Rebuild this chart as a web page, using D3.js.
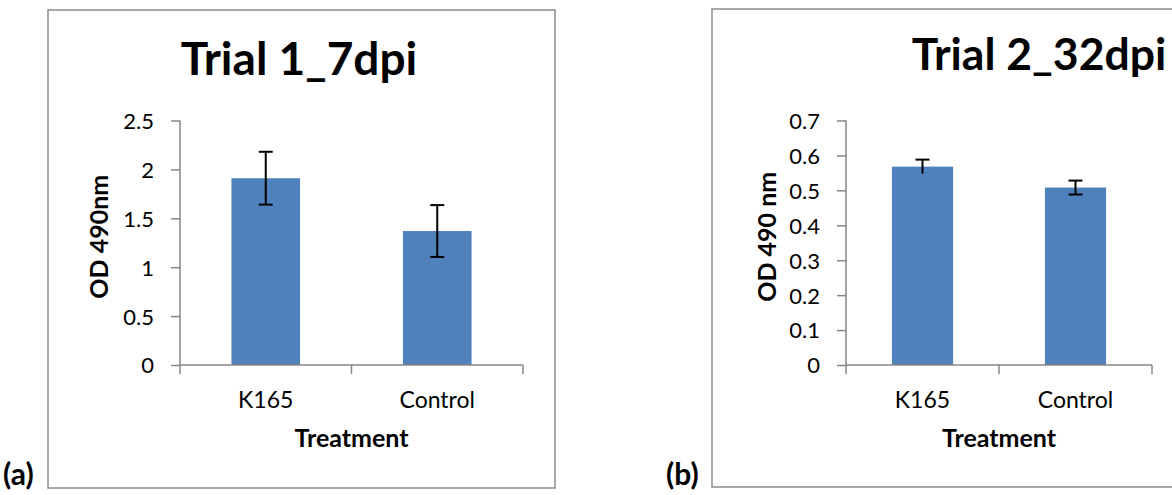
<!DOCTYPE html>
<html>
<head>
<meta charset="utf-8">
<script src="https://cdn.jsdelivr.net/npm/d3@7"></script>
<style>
  html, body { margin: 0; padding: 0; background: #ffffff; }
  svg { display: block; font-family: Lato, "Open Sans", "DejaVu Sans", sans-serif; }
</style>
</head>
<body>
<svg id="chart" width="1172" height="495"></svg>
<script>
// ---- data ----
const categories = ["K165", "Control"];

const titleA = "Trial 1_7dpi";
const valuesA = [1.91, 1.37];
const errorsA = [0.27, 0.265];
const yTicksA = [0, 0.5, 1, 1.5, 2, 2.5];
const yLabelA = "OD 490nm";

const titleB = "Trial 2_32dpi";
const valuesB = [0.568, 0.508];
const errorsB = [0.02, 0.02];
const yTicksB = [0, 0.1, 0.2, 0.3, 0.4, 0.5, 0.6, 0.7];
const yLabelB = "OD 490 nm";

const xLabel = "Treatment";

const svg = d3.select("#chart");
const AXIS = "#868686";
const BAR = "#4f81bd";

function drawPanel(cfg) {
  const g = svg.append("g");
  // outer frame
  g.append("rect")
    .attr("x", cfg.frame[0]).attr("y", cfg.frame[1])
    .attr("width", cfg.frame[2]).attr("height", cfg.frame[3])
    .attr("fill", "none").attr("stroke", "#8c8c8c").attr("stroke-width", 1.5);

  const x = d3.scaleBand().domain(cfg.cats)
    .range([cfg.x0, cfg.x1]).paddingInner(0.6).paddingOuter(0.3);
  const y = d3.scaleLinear().domain(cfg.yDomain).range([cfg.yBottom, cfg.yTop]);

  // bars
  g.selectAll("rect.bar").data(cfg.values).join("rect")
    .attr("class", "bar")
    .attr("x", (d, i) => x(cfg.cats[i]))
    .attr("width", x.bandwidth())
    .attr("y", d => y(d))
    .attr("height", d => y(0) - y(d))
    .attr("fill", BAR);

  // y axis
  const yAxis = d3.axisLeft(y).tickValues(cfg.yTicks)
    .tickFormat(d3.format("~g")).tickSize(9).tickPadding(17);
  const ya = g.append("g").attr("transform", `translate(${cfg.x0},0)`).call(yAxis);
  ya.select(".domain").attr("stroke", AXIS).attr("stroke-width", 1.5)
    .attr("d", `M0,${cfg.yTop}V${cfg.yBottom}`);
  ya.selectAll(".tick line").attr("stroke", AXIS).attr("stroke-width", 1.5);
  ya.selectAll(".tick text").attr("fill", "#000").attr("font-size", 22)
    .attr("font-family", "Lato, 'Open Sans', sans-serif").attr("dy", "0.36em");

  // x axis line with boundary ticks
  g.append("line").attr("x1", cfg.x0).attr("x2", cfg.x1)
    .attr("y1", y(0)).attr("y2", y(0))
    .attr("stroke", AXIS).attr("stroke-width", 1.5);
  const bounds = [cfg.x0].concat(cfg.cats.map(c => x(c) + x.bandwidth() / 2 + x.step() / 2));
  g.selectAll("line.xt").data(bounds).join("line")
    .attr("class", "xt")
    .attr("x1", d => d).attr("x2", d => d)
    .attr("y1", y(0)).attr("y2", y(0) + 9)
    .attr("stroke", AXIS).attr("stroke-width", 1.5);

  // category labels
  g.selectAll("text.cat").data(cfg.cats).join("text")
    .attr("class", "cat")
    .attr("x", d => x(d) + x.bandwidth() / 2)
    .attr("y", y(0) + 43)
    .attr("text-anchor", "middle")
    .attr("font-size", 23)
    .attr("fill", "#000")
    .text(d => d);

  // error bars
  const cap = 7;
  cfg.values.forEach((v, i) => {
    const cx = x(cfg.cats[i]) + x.bandwidth() / 2;
    const e = cfg.errors[i];
    g.append("line").attr("x1", cx).attr("x2", cx)
      .attr("y1", y(v + e)).attr("y2", y(v - e))
      .attr("stroke", "#000").attr("stroke-width", 2);
    g.append("line").attr("x1", cx - cap).attr("x2", cx + cap)
      .attr("y1", y(v + e)).attr("y2", y(v + e))
      .attr("stroke", "#000").attr("stroke-width", 2);
    if (cfg.lowerCaps[i]) {
      g.append("line").attr("x1", cx - cap).attr("x2", cx + cap)
        .attr("y1", y(v - e)).attr("y2", y(v - e))
        .attr("stroke", "#000").attr("stroke-width", 2);
    }
  });

  // title
  g.append("text").attr("x", cfg.titleX).attr("y", cfg.titleY)
    .attr("text-anchor", "middle").attr("font-size", cfg.titleSize).attr("font-weight", 700)
    .attr("fill", "#000").text(cfg.title);

  // x axis title
  g.append("text").attr("x", (cfg.x0 + cfg.x1) / 2).attr("y", y(0) + 82)
    .attr("text-anchor", "middle").attr("font-size", 25).attr("font-weight", 700)
    .attr("fill", "#000").text(xLabel);

  // y axis title
  g.append("text")
    .attr("transform", `translate(${cfg.yLabelX},${(cfg.yTop + cfg.yBottom) / 2 - 6}) rotate(-90)`)
    .attr("text-anchor", "middle").attr("font-size", 25).attr("font-weight", 700)
    .attr("fill", "#000").text(cfg.yLabel);

  // panel letter
  g.append("text").attr("x", cfg.letterX).attr("y", 485)
    .attr("font-size", 30).attr("font-weight", 700).attr("fill", "#000")
    .text(cfg.letter);
}

drawPanel({
  frame: [48, 10, 507, 478],
  cats: categories, values: valuesA, errors: errorsA, lowerCaps: [true, true],
  yDomain: [0, 2.5], yTicks: yTicksA,
  x0: 180, x1: 523, yTop: 120.5, yBottom: 365,
  title: titleA, titleX: 299, titleY: 75, titleSize: 46,
  yLabelX: 108, yLabel: yLabelA,
  letter: "(a)", letterX: 3
});

drawPanel({
  frame: [712, 9, 520, 478],
  cats: categories, values: valuesB, errors: errorsB, lowerCaps: [false, true],
  yDomain: [0, 0.7], yTicks: yTicksB,
  x0: 846, x1: 1152, yTop: 120.5, yBottom: 365,
  title: titleB, titleX: 1039, titleY: 70, titleSize: 44.5,
  yLabelX: 776, yLabel: yLabelB,
  letter: "(b)", letterX: 666
});
</script>
</body>
</html>
